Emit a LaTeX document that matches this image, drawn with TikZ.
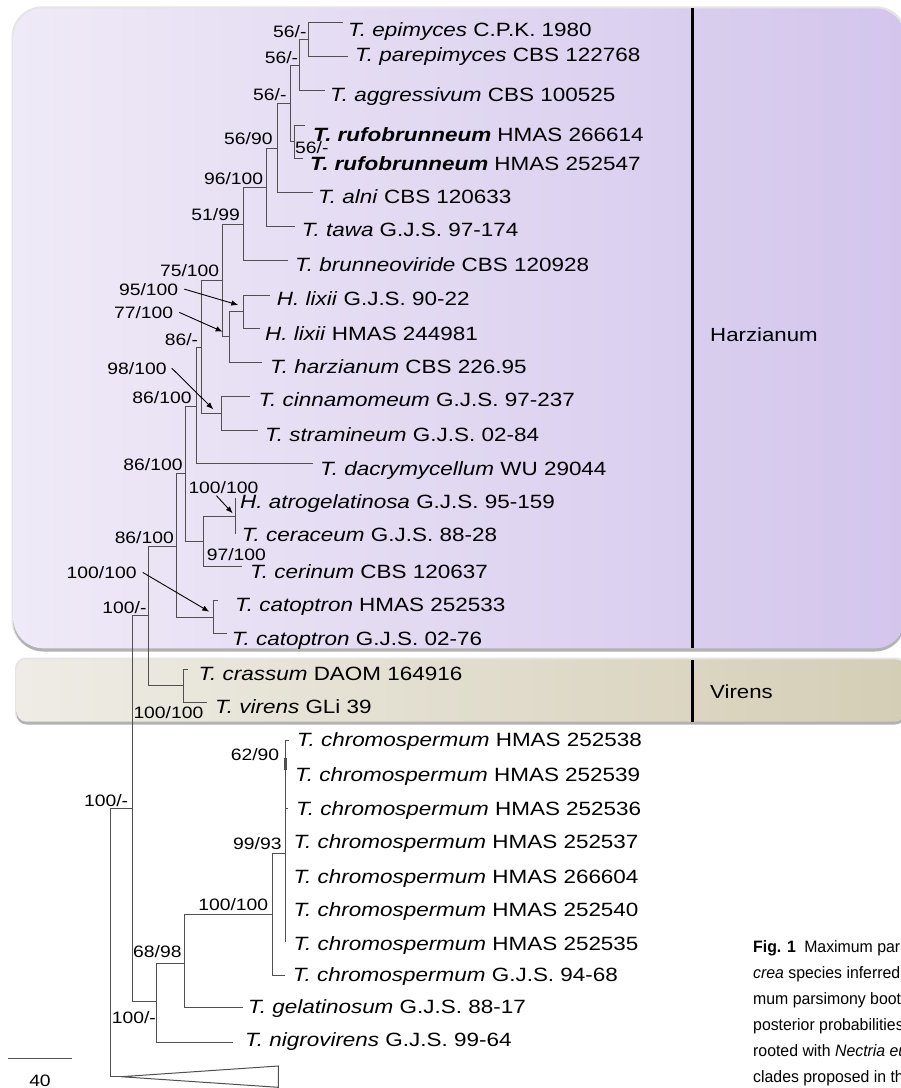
\documentclass[tikz,border=0pt]{standalone}
\usepackage{fontspec}
\setmainfont{Liberation Sans}[FakeStretch=1.17]
\newfontfamily\captfont{Liberation Sans}[FakeStretch=0.96]
\usetikzlibrary{arrows.meta}
\definecolor{treegray}{RGB}{80,80,80}
\definecolor{harzL}{RGB}{239,234,247}
\definecolor{harzR}{RGB}{211,197,236}
\definecolor{virL}{RGB}{238,236,229}
\definecolor{virR}{RGB}{213,206,182}
\tikzset{
  br/.style={draw=treegray, line width=1pt},
  taxon/.style={anchor=base west, inner sep=0pt, font=\fontsize{19.2}{22}\selectfont},
  lab/.style={inner sep=0pt, font=\fontsize{16.5}{19}\selectfont},
  clade/.style={inner sep=0pt, anchor=base west, font=\fontsize{19}{22}\selectfont},
  capt/.style={inner sep=0pt, anchor=base west, font=\captfont\fontsize{16.5}{19}\selectfont},
  arr/.style={-{Latex[length=7pt,width=5.5pt]}, line width=0.9pt, black},
  bar/.style={line width=3pt, black},
}
\begin{document}
\begin{tikzpicture}[x=1pt,y=-1pt]
\useasboundingbox (0,0) rectangle (901,1088);
\clip (0,0) rectangle (901,1088);
\fill[white] (0,0) rectangle (901,1088);
% clade boxes
\fill[black!10, rounded corners=31pt] (11.5,6.3) rectangle (907,651);
\fill[black!30, rounded corners=30pt] (13.3,10) rectangle (905,651.5);
\shade[left color=harzL, right color=harzR, rounded corners=30pt] (13.3,8.3) rectangle (905,648.3);
\fill[black!10, rounded corners=11pt] (15,657.5) rectangle (907,724);
\fill[black!30, rounded corners=10pt] (16.7,661) rectangle (905,724.5);
\shade[left color=virL, right color=virR, rounded corners=10pt] (16.7,659.3) rectangle (905,721.7);
\draw[bar] (692,8.3) -- (692,648.3);
\draw[bar] (692,660) -- (692,721.7);
\node[clade] (harz) at (710,341) {Harzianum};
\node[clade] (vir) at (710,698) {Virens};

% leaf tips
\coordinate (t1) at (343,22.7);
\coordinate (t2) at (348,56.7);
\coordinate (t3) at (325,90);
\coordinate (t4) at (305,125);
\coordinate (t5) at (303,158);
\coordinate (t6) at (313,192.7);
\coordinate (t7) at (295,226.7);
\coordinate (t8) at (288,260.7);
\coordinate (t9) at (270,295);
\coordinate (t10) at (260,328.3);
\coordinate (t11) at (261.7,362.7);
\coordinate (t12) at (250,396.7);
\coordinate (t13) at (258.3,430);
\coordinate (t14) at (313.3,463.3);
\coordinate (t15) at (235,498);
\coordinate (t16) at (235,534);
\coordinate (t17) at (241.7,566.7);
\coordinate (t18) at (218.3,600.7);
\coordinate (t19) at (226.7,633.3);
\coordinate (t20) at (188.3,669.3);
\coordinate (t21) at (206.7,702.3);
\coordinate (t22) at (289,740);
\coordinate (t23) at (285.5,774);
\coordinate (t24) at (288,808);
\coordinate (t25) at (285,842);
\coordinate (t26) at (285,876);
\coordinate (t27) at (285,910);
\coordinate (t28) at (285,942);
\coordinate (t29) at (285,975);
\coordinate (t30) at (243,1007.7);
\coordinate (t31) at (233.3,1042.7);
\coordinate (apex) at (121,1076.7);
% internal nodes
\coordinate (nA) at (308.3,39.3);
\coordinate (nB) at (299.3,65);
\coordinate (nD) at (294,141.5);
\coordinate (nC) at (290,103.3);
\coordinate (nE) at (277.3,148.3);
\coordinate (nF) at (266,187.3);
\coordinate (nG) at (243.3,224);
\coordinate (nJ) at (243.3,311.7);
\coordinate (nI) at (229.3,336.7);
\coordinate (nH) at (222.7,280.7);
\coordinate (nL) at (221,413.3);
\coordinate (nK) at (201.7,347);
\coordinate (nM) at (196,406);
\coordinate (nP) at (235,516);
\coordinate (nO) at (203.3,541.3);
\coordinate (nN) at (185,473.3);
\coordinate (nR) at (213.3,617);
\coordinate (nQ) at (176.7,546);
\coordinate (nT) at (183.3,685.7);
\coordinate (nS) at (148,615);
\coordinate (n62) at (285.5,757);
\coordinate (nY) at (285,853.3);
\coordinate (nX) at (272.7,914);
\coordinate (nW) at (184.3,963.3);
\coordinate (nV) at (156,1001.7);
\coordinate (nU) at (132.3,808.3);
\coordinate (root) at (110.7,942.5);

% branches
\draw[br] (nA) |- (t1);  \draw[br] (nA) |- (t2);
\draw[br] (nB) |- (nA);  \draw[br] (nB) |- (t3);
\draw[br] (nD) |- (t4);  \draw[br] (nD) |- (t5);
\draw[br] (nC) |- (nB);  \draw[br] (nC) |- (nD);
\draw[br] (nE) |- (nC);  \draw[br] (nE) |- (t6);
\draw[br] (nF) |- (nE);  \draw[br] (nF) |- (t7);
\draw[br] (nG) |- (nF);  \draw[br] (nG) |- (t8);
\draw[br] (nJ) |- (t9);  \draw[br] (nJ) |- (t10);
\draw[br] (nI) |- (nJ);  \draw[br] (nI) |- (t11);
\draw[br] (nH) |- (nG);  \draw[br] (nH) |- (nI);
\draw[br] (nL) |- (t12); \draw[br] (nL) |- (t13);
\draw[br] (nK) |- (nH);  \draw[br] (nK) |- (nL);
\draw[br] (nM) |- (nK);  \draw[br] (nM) |- (t14);
\draw[br] (nP) |- (t15); \draw[br] (nP) |- (t16);
\draw[br] (nO) |- (nP);  \draw[br] (nO) |- (t17);
\draw[br] (nN) |- (nM);  \draw[br] (nN) |- (nO);
\draw[br] (nR) |- (t18); \draw[br] (nR) |- (t19);
\draw[br] (nQ) |- (nN);  \draw[br] (nQ) |- (nR);
\draw[br] (nT) |- (t20); \draw[br] (nT) |- (t21);
\draw[br] (nS) |- (nQ);  \draw[br] (nS) |- (nT);
\draw[br] (n62) |- (t22); \draw[br] (n62) |- (t23);
\draw[br, line width=2.2pt] ([yshift=-1pt]n62) -- ([yshift=-13pt]n62);
\draw[br] (nY) |- (n62); \draw[br] (nY) |- (t24); \draw[br] (nY) |- (t25);
\draw[br] (nY) |- (t26); \draw[br] (nY) |- (t27); \draw[br] (nY) |- (t28);
\draw[br] (nX) |- (nY);  \draw[br] (nX) |- (t29);
\draw[br] (nW) |- (nX);  \draw[br] (nW) |- (t30);
\draw[br] (nV) |- (nW);  \draw[br] (nV) |- (t31);
\draw[br] (nU) |- (nS);  \draw[br] (nU) |- (nV);
\draw[br] (root) |- (nU); \draw[br] (root) |- (apex);
\draw[br] (apex) -- (278.3,1066) -- (278.3,1087.3) -- cycle;

% taxa
\node[taxon] (x1) at (348,36) {\textit{T. epimyces} C.P.K. 1980};
\node[taxon] (x2) at (355,61.7) {\textit{T. parepimyces} CBS 122768};
\node[taxon] (x3) at (330,101.7) {\textit{T. aggressivum} CBS 100525};
\node[taxon] (x4) at (313,141.5) {\textbf{\textit{T. rufobrunneum}} HMAS 266614};
\node[taxon] (x5) at (310,170) {\textbf{\textit{T. rufobrunneum}} HMAS 252547};
\node[taxon] (x6) at (318,203.3) {\textit{T. alni} CBS 120633};
\node[taxon] (x7) at (301.7,236.7) {\textit{T. tawa} G.J.S. 97-174};
\node[taxon] (x8) at (295,271.7) {\textit{T. brunneoviride} CBS 120928};
\node[taxon] (x9) at (276.7,305) {\textit{H. lixii} G.J.S. 90-22};
\node[taxon] (x10) at (265,340) {\textit{H. lixii} HMAS 244981};
\node[taxon] (x11) at (270,373.3) {\textit{T. harzianum} CBS 226.95};
\node[taxon] (x12) at (258.3,406.7) {\textit{T. cinnamomeum} G.J.S. 97-237};
\node[taxon] (x13) at (265,441.7) {\textit{T. stramineum} G.J.S. 02-84};
\node[taxon] (x14) at (320,475) {\textit{T. dacrymycellum} WU 29044};
\node[taxon] (x15) at (240,508.3) {\textit{H. atrogelatinosa} G.J.S. 95-159};
\node[taxon] (x16) at (241.7,541.7) {\textit{T. ceraceum} G.J.S. 88-28};
\node[taxon] (x17) at (250,578.3) {\textit{T. cerinum} CBS 120637};
\node[taxon] (x18) at (235,611.7) {\textit{T. catoptron} HMAS 252533};
\node[taxon] (x19) at (231.7,645) {\textit{T. catoptron} G.J.S. 02-76};
\node[taxon] (x20) at (198.3,680) {\textit{T. crassum} DAOM 164916};
\node[taxon] (x21) at (215,713.3) {\textit{T. virens} GLi 39};
\node[taxon] (x22) at (296.7,746.7) {\textit{T. chromospermum} HMAS 252538};
\node[taxon] (x23) at (295,781.7) {\textit{T. chromospermum} HMAS 252539};
\node[taxon] (x24) at (296,815) {\textit{T. chromospermum} HMAS 252536};
\node[taxon] (x25) at (293.3,848.3) {\textit{T. chromospermum} HMAS 252537};
\node[taxon] (x26) at (293.3,883.3) {\textit{T. chromospermum} HMAS 266604};
\node[taxon] (x27) at (293.3,916.7) {\textit{T. chromospermum} HMAS 252540};
\node[taxon] (x28) at (293.3,950) {\textit{T. chromospermum} HMAS 252535};
\node[taxon] (x29) at (292.7,981.7) {\textit{T. chromospermum} G.J.S. 94-68};
\node[taxon] (x30) at (248,1013.3) {\textit{T. gelatinosum} G.J.S. 88-17};
\node[taxon] (x31) at (245,1046.7) {\textit{T. nigrovirens} G.J.S. 99-64};

% support labels
\node[lab, anchor=base east] (l1) at (306.7,37.3) {56/-};
\node[lab, anchor=base east] (l2) at (298.3,63.3) {56/-};
\node[lab, anchor=base east] (l3) at (286.7,100.7) {56/-};
\node[lab, anchor=base east] (l4) at (272.7,144) {56/90};
\node[lab, anchor=base west] (l5) at (295,153) {56/-};
\node[lab, anchor=base east] (l6) at (263.3,184) {96/100};
\node[lab, anchor=base east] (l7) at (240,220.7) {51/99};
\node[lab, anchor=base east] (l8) at (219.3,276.7) {75/100};
\node[lab, anchor=base east] (l95) at (178.3,295) {95/100};
\node[lab, anchor=base east] (l77) at (173.3,318.3) {77/100};
\node[lab, anchor=base east] (l9) at (198.3,345) {86/-};
\node[lab, anchor=base east] (l98) at (166.7,374) {98/100};
\node[lab, anchor=base east] (l10) at (191.7,403.3) {86/100};
\node[lab, anchor=base east] (l11) at (182.7,470) {86/100};
\node[lab, anchor=base west] (l100a) at (188.3,493.3) {100/100};
\node[lab, anchor=base west] (l12) at (206.7,560) {97/100};
\node[lab, anchor=base east] (l13) at (174,543.3) {86/100};
\node[lab, anchor=base east] (l100c) at (136.7,578.3) {100/100};
\node[lab, anchor=base east] (l14) at (146.7,613.3) {100/-};
\node[lab, anchor=base west] (l15) at (133.3,718.3) {100/100};
\node[lab, anchor=base east] (l16) at (279.3,760) {62/90};
\node[lab, anchor=base east] (l17) at (281.7,849.3) {99/93};
\node[lab, anchor=base east] (l18) at (128.3,806.7) {100/-};
\node[lab, anchor=base east] (l19) at (268.3,910) {100/100};
\node[lab, anchor=base east] (l20) at (181.7,957.3) {68/98};
\node[lab, anchor=base west] (l21) at (111.7,1023.3) {100/-};

% arrows
\coordinate (a95) at (238.3,305);
\coordinate (a77) at (222.7,331.7);
\coordinate (a98) at (213.3,409.3);
\coordinate (a100a) at (232.7,513.3);
\coordinate (a100c) at (209.3,611.7);
\draw[arr] ([xshift=6pt]l95.east) -- (a95);
\draw[arr] ([xshift=6pt]l77.east) -- (a77);
\draw[arr] ([xshift=5pt]l98.east) -- (a98);
\draw[arr] ([xshift=-7pt,yshift=-2pt]l100a.south) -- (a100a);
\draw[arr] ([xshift=6pt]l100c.east) -- (a100c);

% scale bar
\coordinate (sb1) at (8.3,1058.3);
\coordinate (sb2) at (71.7,1058.3);
\draw[line width=1pt, treegray] (sb1) -- (sb2);
\node[lab, anchor=base] (sbl) at (40,1086) {40};

% caption
\node[capt] (c1) at (753,952) {\textbf{Fig. 1}\enspace Maximum par};
\node[capt] (c2) at (753,978) {\textit{crea} species inferred};
\node[capt] (c3) at (753,1004) {mum parsimony boots};
\node[capt] (c4) at (753,1030) {posterior probabilities};
\node[capt] (c5) at (753,1056) {rooted with \textit{Nectria eu}};
\node[capt] (c6) at (753,1082) {clades proposed in th};
\end{tikzpicture}
\end{document}
